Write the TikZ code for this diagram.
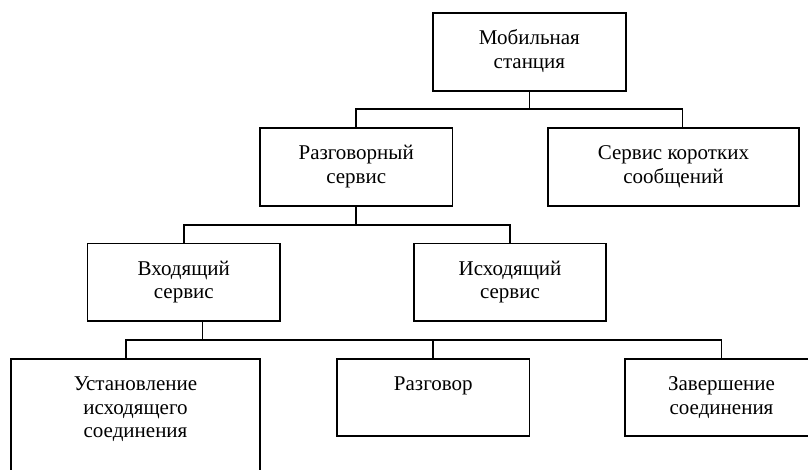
\documentclass[tikz,border=0pt]{standalone}
\usepackage{fontspec}
\setmainfont{Liberation Serif}
\tikzset{
  box/.style={draw, line width=1.7pt, inner sep=0pt, outer sep=0pt},
  link/.style={line width=1.7pt},
}
\newcommand{\boxtext}[3]{\parbox[c][#2][t]{#1}{\centering\fontsize{21}{23.5}\selectfont\rule{0pt}{31.5pt}#3\par}}
\begin{document}
\begin{tikzpicture}[x=1pt,y=-1pt]
\useasboundingbox (0,0) rectangle (808,469);
\clip (0,0) rectangle (808,469);
\node[box] (b1) at (529.4,52) {\boxtext{193.2pt}{77.4pt}{Мобильная\\станция}};
\node[box] (b2) at (356.2,167) {\boxtext{192.3pt}{77.4pt}{Разговорный\\сервис}};
\node[box] (b3) at (673.4,167) {\boxtext{250.6pt}{77.4pt}{Сервис коротких\\сообщений}};
\node[box] (b4) at (183.8,282.3) {\boxtext{192.4pt}{77.4pt}{Входящий\\сервис}};
\node[box] (b5) at (510,282.3) {\boxtext{192.6pt}{77.4pt}{Исходящий\\сервис}};
\node[box] (b6) at (135.5,424) {\boxtext{249pt}{130pt}{Установление\\исходящего\\соединения}};
\node[box] (b7) at (433.3,397.5) {\boxtext{192.6pt}{77pt}{Разговор}};
\node[box] (b8) at (721.5,397.5) {\boxtext{193pt}{77pt}{Завершение\\соединения}};
\draw[link] (b1.south) -- ++(0,18) coordinate (j1);
\draw[link] (b2.north) |- (j1) -| ([xshift=9.2pt]b3.north);
\draw[link] (b2.south) -- ++(0,19) coordinate (j2);
\draw[link] (b4.north) |- (j2) -| (b5.north);
\draw[link] ([xshift=18.7pt]b4.south) -- ++(0,19) coordinate (j3);
\draw[link] ([xshift=-9.5pt]b6.north) |- (j3) -| (b8.north);
\draw[link] (b7.north) -- (b7.north |- j3);
\end{tikzpicture}
\end{document}
